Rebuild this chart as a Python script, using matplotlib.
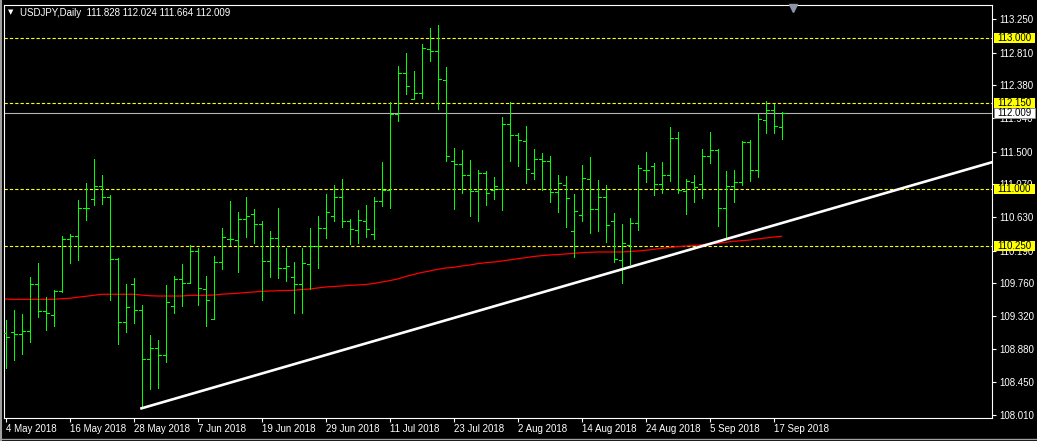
#!/usr/bin/env python3
"""USDJPY daily bar chart, MT4 style"""

import matplotlib
matplotlib.use("Agg")
import matplotlib.pyplot as plt
import pandas as pd
from matplotlib.patches import Rectangle
from matplotlib.transforms import blended_transform_factory

# daily OHLC, 4 May 2018 .. 18 Sep 2018
dates = pd.bdate_range("2018-05-04", "2018-09-18")

opens = [109.100, 109.107, 109.085, 109.121, 109.743, 109.385, 109.332, 109.654, 110.339, 110.386,
         110.749, 110.868, 111.044, 110.895, 110.074, 109.240, 109.747, 109.399, 108.750, 108.896,
         108.803, 109.456, 109.813, 109.764, 110.184, 109.677, 109.279, 110.034, 110.347, 110.329,
         110.611, 110.670, 110.537, 110.047, 110.352, 109.955, 109.836, 109.743, 110.008, 110.254,
         110.484, 110.643, 110.895, 110.577, 110.458, 110.577, 110.405, 110.842, 110.987, 111.994,
         112.540, 112.196, 112.276, 112.854, 112.828, 112.444, 111.371, 111.332, 111.186, 110.974,
         111.213, 110.995, 111.001, 111.861, 111.716, 111.636, 111.213, 111.398, 111.371, 110.961,
         111.054, 110.445, 110.656, 111.133, 110.736, 110.895, 110.577, 110.065, 110.267, 110.554,
         111.252, 111.305, 111.067, 111.186, 111.676, 110.978, 111.093, 111.067, 111.438, 111.517,
         110.749, 111.040, 111.093, 111.623, 111.252, 111.914, 112.051, 111.828]
highs = [109.270, 109.403, 109.350, 109.844, 110.021, 109.579, 109.667, 110.382, 110.405, 110.859,
         111.088, 111.402, 111.190, 110.925, 110.087, 109.747, 109.822, 109.469, 109.072, 109.005,
         109.734, 109.853, 110.012, 110.263, 110.220, 109.853, 110.118, 110.484, 110.846, 110.696,
         110.895, 110.740, 110.581, 110.453, 110.753, 110.223, 110.034, 110.223, 110.488, 110.647,
         110.938, 111.058, 111.137, 110.607, 110.727, 110.793, 110.895, 111.362, 112.160, 112.633,
         112.809, 112.567, 112.924, 113.136, 113.176, 112.616, 111.547, 111.521, 111.389, 111.256,
         111.239, 111.164, 111.958, 112.153, 111.746, 111.839, 111.530, 111.481, 111.442, 111.190,
         111.177, 110.938, 111.322, 111.432, 111.124, 111.058, 110.691, 110.541, 110.625, 111.322,
         111.495, 111.349, 111.362, 111.826, 111.759, 111.137, 111.190, 111.534, 111.759, 111.530,
         111.247, 111.256, 111.640, 111.653, 112.002, 112.166, 112.130, 112.024]
lows = [108.639, 108.741, 108.820, 108.983, 109.314, 109.138, 109.191, 109.645, 110.029, 110.065,
        110.594, 110.793, 110.802, 109.535, 108.948, 109.115, 109.226, 108.101, 108.353, 108.374,
        108.718, 109.367, 109.460, 109.764, 109.469, 109.195, 109.279, 109.945, 110.263, 109.910,
        110.373, 110.294, 109.535, 109.844, 109.830, 109.791, 109.359, 109.367, 109.681, 109.963,
        110.360, 110.581, 110.505, 110.272, 110.286, 110.373, 110.343, 110.784, 110.757, 111.909,
        112.258, 112.192, 112.213, 112.703, 112.060, 111.379, 110.740, 110.956, 110.651, 110.585,
        110.793, 110.876, 110.727, 111.375, 111.309, 111.088, 111.141, 110.991, 110.829, 110.704,
        110.505, 110.108, 110.585, 110.426, 110.453, 110.307, 110.042, 109.764, 110.012, 110.462,
        111.101, 110.925, 110.948, 111.115, 110.948, 110.674, 110.837, 110.889, 111.353, 110.519,
        110.373, 110.837, 111.058, 111.115, 111.168, 111.750, 111.750, 111.664]
closes = [109.049, 109.085, 109.121, 109.743, 109.385, 109.359, 109.654, 110.339, 110.386, 110.749,
          110.757, 111.044, 110.895, 110.074, 109.240, 109.438, 109.399, 108.750, 108.896, 108.803,
          109.505, 109.813, 109.764, 110.184, 109.690, 109.531, 110.034, 110.365, 110.343, 110.611,
          110.651, 110.537, 110.047, 110.352, 109.955, 109.981, 109.743, 110.021, 110.254, 110.484,
          110.696, 110.895, 110.577, 110.471, 110.590, 110.471, 110.842, 110.987, 111.998, 112.540,
          112.364, 112.276, 112.868, 112.836, 112.457, 111.442, 111.332, 111.186, 110.974, 111.213,
          110.956, 111.044, 111.861, 111.716, 111.649, 111.266, 111.398, 111.379, 110.961, 111.080,
          110.882, 110.709, 111.146, 110.736, 110.895, 110.524, 110.074, 110.286, 110.554, 111.279,
          111.252, 111.067, 111.186, 111.676, 110.991, 111.107, 111.027, 111.438, 111.517, 110.749,
          111.040, 111.093, 111.623, 111.252, 111.927, 112.047, 111.835, 112.009]

# moving average (red line)
ma_values = [109.548, 109.544, 109.544, 109.544, 109.544, 109.544, 109.544, 109.552, 109.558, 109.571,
             109.584, 109.597, 109.611, 109.611, 109.611, 109.611, 109.611, 109.601, 109.592, 109.588,
             109.588, 109.588, 109.588, 109.597, 109.597, 109.597, 109.601, 109.611, 109.618, 109.624,
             109.634, 109.641, 109.650, 109.654, 109.658, 109.661, 109.663, 109.674, 109.681, 109.694,
             109.707, 109.714, 109.720, 109.730, 109.734, 109.740, 109.753, 109.773, 109.791, 109.813,
             109.846, 109.873, 109.899, 109.919, 109.941, 109.959, 109.968, 109.985, 109.998, 110.016,
             110.029, 110.038, 110.051, 110.065, 110.082, 110.095, 110.111, 110.122, 110.131, 110.137,
             110.144, 110.153, 110.161, 110.167, 110.171, 110.171, 110.171, 110.171, 110.177, 110.184,
             110.193, 110.206, 110.220, 110.230, 110.241, 110.250, 110.257, 110.267, 110.276, 110.286,
             110.299, 110.312, 110.320, 110.329, 110.343, 110.356, 110.369, 110.378]

# trend line anchors (bar index, price)
trend_idx = [17, 123.4]
trend_price = [108.101, 111.362]

# horizontal levels and bid
level_prices = [113.000, 112.150, 111.000, 110.250]
bid_price = 112.009

price_ticks = [113.25, 112.81, 112.38, 111.94, 111.50, 111.07, 110.63,
               110.19, 109.76, 109.32, 108.88, 108.45, 108.01]

FONT = "Liberation Sans"
FS = 7.0
BAR_GREEN = "#00ff00"
W, H = 1037, 441


def main() -> None:
    fig = plt.figure(figsize=(W / 100, H / 100), dpi=100, facecolor="black")
    ax = fig.add_axes([4 / W, 23 / H, 988 / W, 413 / H])
    ax.set_facecolor("black")

    n = len(opens)
    xs = list(range(n))
    tick = 0.375
    bar_kw = dict(color=BAR_GREEN, lw=0.6, antialiased=False, zorder=3)
    ax.vlines(xs, lows, highs, **bar_kw)
    ax.hlines(opens, [x - tick for x in xs], xs, **bar_kw)
    ax.hlines(closes, xs, [x + tick for x in xs], **bar_kw)

    ax.plot(xs, ma_values, color="#ff0000", lw=0.9, zorder=2)
    ax.plot(trend_idx, trend_price, color="white", lw=1.9, zorder=4)

    for p in level_prices:
        ax.axhline(p, color="#ffff00", lw=0.8, linestyle=(0, (3, 1.8)), zorder=1)
    ax.axhline(bid_price, color="#b4b4b4", lw=0.8, zorder=1)

    # bar centres fall on pixel centres (8 px per bar)
    ax.set_xlim(-0.1875, 123.3125)
    ax.set_ylim(107.973, 113.441)

    for side in ["top", "bottom", "left", "right"]:
        ax.spines[side].set_color("white")
        ax.spines[side].set_linewidth(0.8)

    # date axis
    lab_idx = xs[::8]
    ax.set_xticks(lab_idx)
    ax.set_xticklabels([f"{d.day} {d:%b %Y}" for d in dates[::8]],
                       ha="left", fontfamily=FONT, fontsize=FS, color="white")
    ax.tick_params(axis="x", direction="out", length=3, width=0.8, color="white", pad=1)

    # price axis
    ax.yaxis.tick_right()
    ax.set_yticks(price_ticks)
    ax.set_yticklabels([f"{p:.3f}" for p in price_ticks], fontfamily=FONT, fontsize=FS, color="white")
    ax.tick_params(axis="y", direction="out", length=3, width=0.8, color="white", pad=2)

    tr = blended_transform_factory(ax.transAxes, ax.transData)
    box_h = 10 / 413 * (113.441 - 107.973)
    box_x = 1 + 2 / 988
    box_w = 41 / 988
    for p in level_prices:
        ax.add_patch(Rectangle((box_x, p - box_h / 2), box_w, box_h, transform=tr,
                               facecolor="#ffff00", edgecolor="none", clip_on=False, zorder=5))
        ax.text(box_x + 3 / 988, p, f"{p:.3f}", transform=tr, va="center", ha="left",
                fontfamily=FONT, fontsize=FS, color="black", zorder=6, clip_on=False)
    ax.add_patch(Rectangle((box_x, bid_price - box_h / 2), box_w, box_h, transform=tr,
                           facecolor="white", edgecolor="#909090", lw=0.6, clip_on=False, zorder=5))
    ax.text(box_x + 3 / 988, bid_price, f"{bid_price:.3f}", transform=tr, va="center", ha="left",
            fontfamily=FONT, fontsize=FS, color="black", zorder=6, clip_on=False)

    # header
    fig.text(8 / W, 1 - 12.5 / H, "\u25bc", fontsize=5, color="white", va="center", ha="left")
    fig.text(20 / W, 1 - 12.5 / H,
             f"USDJPY,Daily  {opens[-1]:.3f} {highs[-1]:.3f} {lows[-1]:.3f} {closes[-1]:.3f}",
             fontfamily=FONT, fontsize=FS, color="white", va="center", ha="left")

    # chart shift marker
    ax.plot([(793 - 4) / 988], [1 - 2.5 / 413], marker="v", markersize=6, color="#8a98a6",
            transform=ax.transAxes, clip_on=False, zorder=7)

    # window border
    fig.add_artist(plt.Line2D([0.5 / W, 0.5 / W], [0, 1], color="#a0a0a0", lw=1.5))
    fig.add_artist(plt.Line2D([0, 1], [2.5 / H, 2.5 / H], color="#a0a0a0", lw=1))

    fig.savefig("out.png", dpi=100, facecolor="black")


if __name__ == "__main__":
    main()
